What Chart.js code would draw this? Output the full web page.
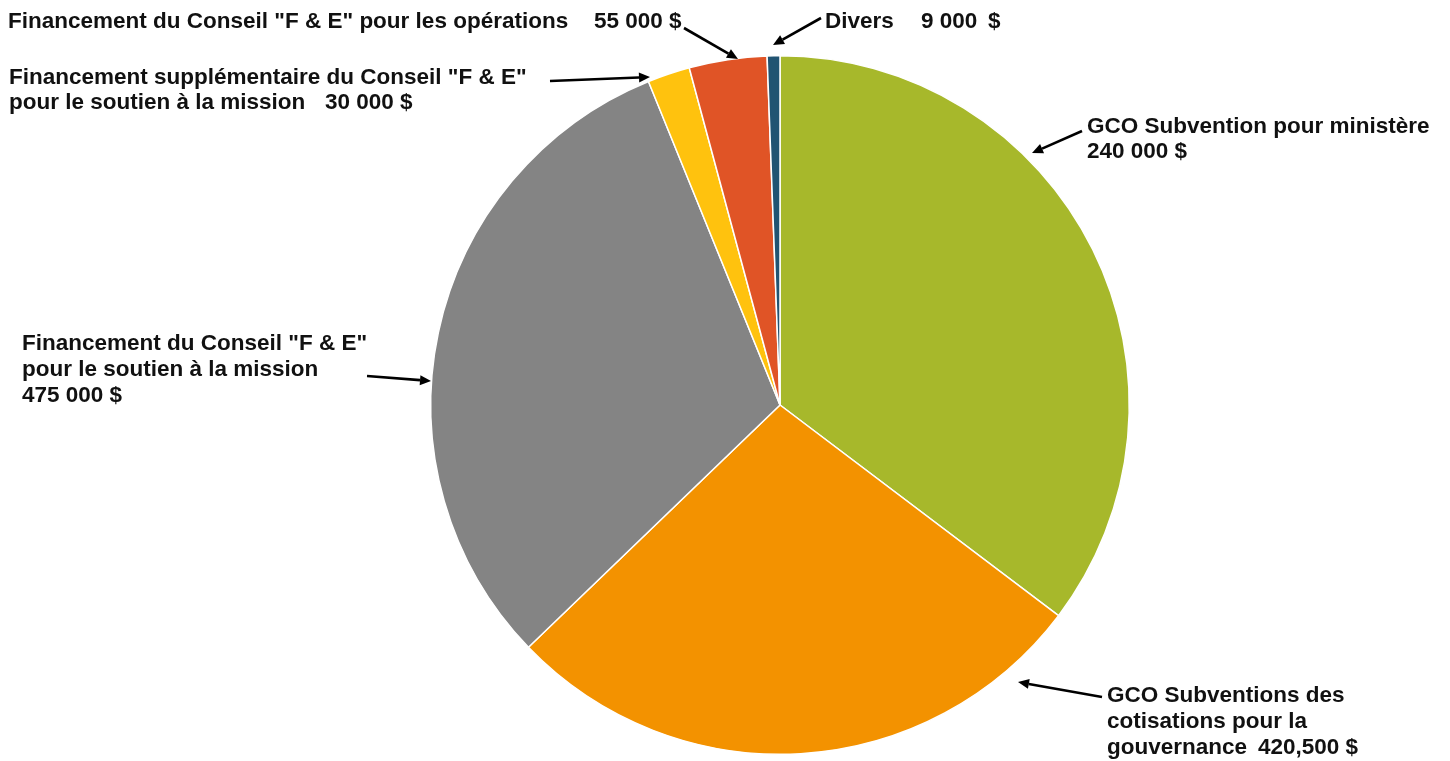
<!DOCTYPE html>
<html>
<head>
<meta charset="utf-8">
<script src="https://cdn.jsdelivr.net/npm/chart.js@4/dist/chart.umd.min.js"></script>
<style>
  html, body { margin: 0; padding: 0; background: #ffffff; }
  #wrap { width: 1450px; height: 761px; position: relative; }
</style>
</head>
<body>
<div id="wrap"><canvas id="c" width="1450" height="761"></canvas></div>
<script>
// Data (slice values; label texts as printed)
const categories = [
  'GCO Subvention pour ministère',
  'GCO Subventions des cotisations pour la gouvernance',
  'Financement du Conseil "F & E" pour le soutien à la mission',
  'Financement supplémentaire du Conseil "F & E" pour le soutien à la mission',
  'Financement du Conseil "F & E" pour les opérations',
  'Divers'
];
const values = [540000, 420500, 475000, 30000, 55000, 9000];
const amountLabels = ['240 000 $', '420,500 $', '475 000 $', '30 000 $', '55 000 $', '9 000'];
const sliceColors = ['#A7B82B', '#F39200', '#848484', '#FFC20E', '#E05426', '#215472'];

// Annotation layout: each label is a list of text segments [text, x, baseline]
const labelLayout = [
  { segs: [['GCO Subvention pour ministère', 1087, 133], [amountLabels[0], 1087, 158]],
    arrow: [1082, 131, 1032, 153] },
  { segs: [['GCO Subventions des', 1107, 702], ['cotisations pour la', 1107, 728], ['gouvernance', 1107, 754], [amountLabels[1], 1258, 754]],
    arrow: [1102, 697, 1018, 682] },
  { segs: [['Financement du Conseil "F & E"', 22, 350], ['pour le soutien à la mission', 22, 376], [amountLabels[2], 22, 402]],
    arrow: [367, 376, 431, 381] },
  { segs: [['Financement supplémentaire du Conseil "F & E"', 9, 84], ['pour le soutien à la mission', 9, 109], [amountLabels[3], 325, 109]],
    arrow: [550, 81, 650, 77] },
  { segs: [['Financement du Conseil "F & E" pour les opérations', 8, 28], [amountLabels[4], 594, 28]],
    arrow: [684, 28, 738, 59] },
  { segs: [['Divers', 825, 28], [amountLabels[5], 921, 28], ['$', 988, 28]],
    arrow: [821, 18, 773, 45] }
];

function drawArrow(ctx, x1, y1, x2, y2) {
  const ang = Math.atan2(y2 - y1, x2 - x1);
  const headLen = 11, headW = 5;
  const bx = x2 - headLen * Math.cos(ang), by = y2 - headLen * Math.sin(ang);
  ctx.save();
  ctx.strokeStyle = '#000';
  ctx.fillStyle = '#000';
  ctx.lineWidth = 2.6;
  ctx.beginPath();
  ctx.moveTo(x1, y1);
  ctx.lineTo(bx, by);
  ctx.stroke();
  ctx.beginPath();
  ctx.moveTo(x2, y2);
  ctx.lineTo(bx + headW * Math.sin(ang), by - headW * Math.cos(ang));
  ctx.lineTo(bx - headW * Math.sin(ang), by + headW * Math.cos(ang));
  ctx.closePath();
  ctx.fill();
  ctx.restore();
}

const annotationPlugin = {
  id: 'annotations',
  afterDraw(chart) {
    const ctx = chart.ctx;
    ctx.save();
    ctx.font = 'bold 22.5px "Liberation Sans", Arial, sans-serif';
    ctx.fillStyle = '#111111';
    ctx.textBaseline = 'alphabetic';
    ctx.textAlign = 'left';
    labelLayout.forEach(l => {
      l.segs.forEach(s => ctx.fillText(s[0], s[1], s[2]));
      drawArrow(ctx, ...l.arrow);
    });
    ctx.restore();
  }
};

new Chart(document.getElementById('c'), {
  type: 'pie',
  data: {
    labels: categories,
    datasets: [{
      data: values,
      backgroundColor: sliceColors,
      borderColor: '#ffffff',
      borderWidth: 1.5
    }]
  },
  options: {
    responsive: false,
    animation: false,
    layout: { padding: { left: 110, right: 0, top: 55, bottom: 6 } },
    plugins: {
      legend: { display: false },
      tooltip: { enabled: false },
      title: { display: false }
    }
  },
  plugins: [annotationPlugin]
});
</script>
</body>
</html>
